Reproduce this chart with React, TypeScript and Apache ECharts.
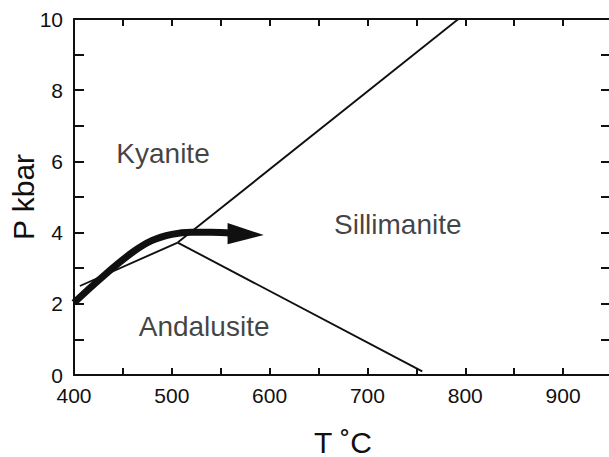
import React, { useEffect, useRef } from "react";
import * as echarts from "echarts";

// Axis ranges / ticks
const xMin = 400;
const xMax = 950;
const xStep = 50;
const xLabelEvery = 100;
const yMin = 0;
const yMax = 10;
const yStep = 1;
const yLabelEvery = 2;

// Phase boundaries (T °C, P kbar)
const kyaniteSillimanite = [
  [506, 3.72],
  [793, 10],
];
const sillimaniteAndalusite = [
  [506, 3.72],
  [756, 0.1],
];
const kyaniteAndalusite = [
  [406, 2.5],
  [506, 3.72],
];

// P-T path (thick arrow)
const ptPath = [
  [400, 2.03],
  [430, 2.78],
  [460, 3.45],
  [480, 3.78],
  [500, 3.95],
  [520, 4.01],
  [540, 4.01],
  [562, 3.98],
];
const arrowHead = [
  [557, 4.27],
  [594, 3.93],
  [557, 3.67],
];

// Field labels
const phaseNames = ["Kyanite", "Sillimanite", "Andalusite"];
const phaseLabelPos = [
  [491, 6.23],
  [731, 4.24],
  [533, 1.37],
];

const INK = "#111011";
const FONT = "Liberation Sans, Arial, Helvetica, sans-serif";

export default function App() {
  const ref = useRef<HTMLDivElement>(null);

  useEffect(() => {
    document.body.style.margin = "0";
    if (!ref.current) return;
    const chart = echarts.init(ref.current, null, { renderer: "svg" });

    const thin = (data: number[][]) => ({
      type: "line",
      data,
      showSymbol: false,
      symbol: "none",
      lineStyle: { color: INK, width: 1.9 },
      silent: true,
      z: 3,
    });

    const option: any = {
      animation: false,
      backgroundColor: "#ffffff",
      grid: {
        left: 74,
        right: -3,
        top: 19,
        bottom: 82,
        containLabel: false,
        outerBoundsMode: "none",
      },
      xAxis: [
        {
          type: "value",
          min: xMin,
          max: xMax,
          interval: xStep,
          position: "bottom",
          name: "T \u02DAC",
          nameLocation: "middle",
          nameGap: 52,
          nameMoveOverlap: false,
          nameTextStyle: { color: INK, fontSize: 30, fontFamily: FONT },
          axisLine: { show: true, onZero: false, lineStyle: { color: INK, width: 2 } },
          axisTick: { show: true, inside: true, length: 7, lineStyle: { color: INK, width: 2 } },
          axisLabel: {
            show: true,
            margin: 10,
            color: INK,
            fontSize: 21,
            fontFamily: FONT,
            showMinLabel: true,
            showMaxLabel: true,
            formatter: (v: number) => (v % xLabelEvery === 0 ? String(v) : ""),
          },
          splitLine: { show: false },
        },
        {
          type: "value",
          min: xMin,
          max: xMax,
          interval: xStep,
          position: "top",
          axisLine: { show: true, onZero: false, lineStyle: { color: INK, width: 2 } },
          axisTick: { show: true, inside: true, length: 7, lineStyle: { color: INK, width: 2 } },
          axisLabel: { show: false },
          splitLine: { show: false },
        },
      ],
      yAxis: [
        {
          type: "value",
          min: yMin,
          max: yMax,
          interval: yStep,
          position: "left",
          name: "P kbar",
          nameLocation: "middle",
          nameGap: 36,
          nameMoveOverlap: false,
          nameRotate: 90,
          nameTextStyle: { color: INK, fontSize: 30, fontFamily: FONT },
          axisLine: { show: true, onZero: false, lineStyle: { color: INK, width: 2 } },
          axisTick: { show: true, inside: true, length: 10, lineStyle: { color: INK, width: 2 } },
          axisLabel: {
            show: true,
            margin: 11,
            color: INK,
            fontSize: 21,
            fontFamily: FONT,
            padding: [6, 0, 0, 0],
            showMinLabel: true,
            showMaxLabel: true,
            formatter: (v: number) => (v % yLabelEvery === 0 ? String(v) : ""),
          },
          splitLine: { show: false },
        },
        {
          type: "value",
          min: yMin,
          max: yMax,
          interval: yStep,
          position: "right",
          axisLine: { show: true, onZero: false, lineStyle: { color: INK, width: 2 } },
          axisTick: { show: true, inside: true, length: 11, lineStyle: { color: INK, width: 2 } },
          axisLabel: { show: false },
          splitLine: { show: false },
        },
      ],
      series: [
        thin(kyaniteSillimanite),
        thin(sillimaniteAndalusite),
        thin(kyaniteAndalusite),
        {
          type: "line",
          data: ptPath,
          smooth: 0.4,
          showSymbol: false,
          symbol: "none",
          lineStyle: { color: INK, width: 7, cap: "butt" },
          silent: true,
          z: 4,
        },
        {
          type: "custom",
          data: [0],
          silent: true,
          z: 5,
          renderItem: (_params: any, api: any) => ({
            type: "polygon",
            shape: { points: arrowHead.map((p) => api.coord(p)) },
            style: { fill: INK },
          }),
        },
        {
          type: "scatter",
          symbolSize: 0,
          silent: true,
          data: phaseNames.map((n, i) => ({ name: n, value: phaseLabelPos[i] })),
          label: {
            show: true,
            position: "inside",
            formatter: "{b}",
            color: INK,
            fontSize: 28,
            fontFamily: FONT,
          },
          z: 6,
        },
      ],
    };

    chart.setOption(option);
    return () => chart.dispose();
  }, []);

  return <div ref={ref} style={{ width: 609, height: 457 }} />;
}
